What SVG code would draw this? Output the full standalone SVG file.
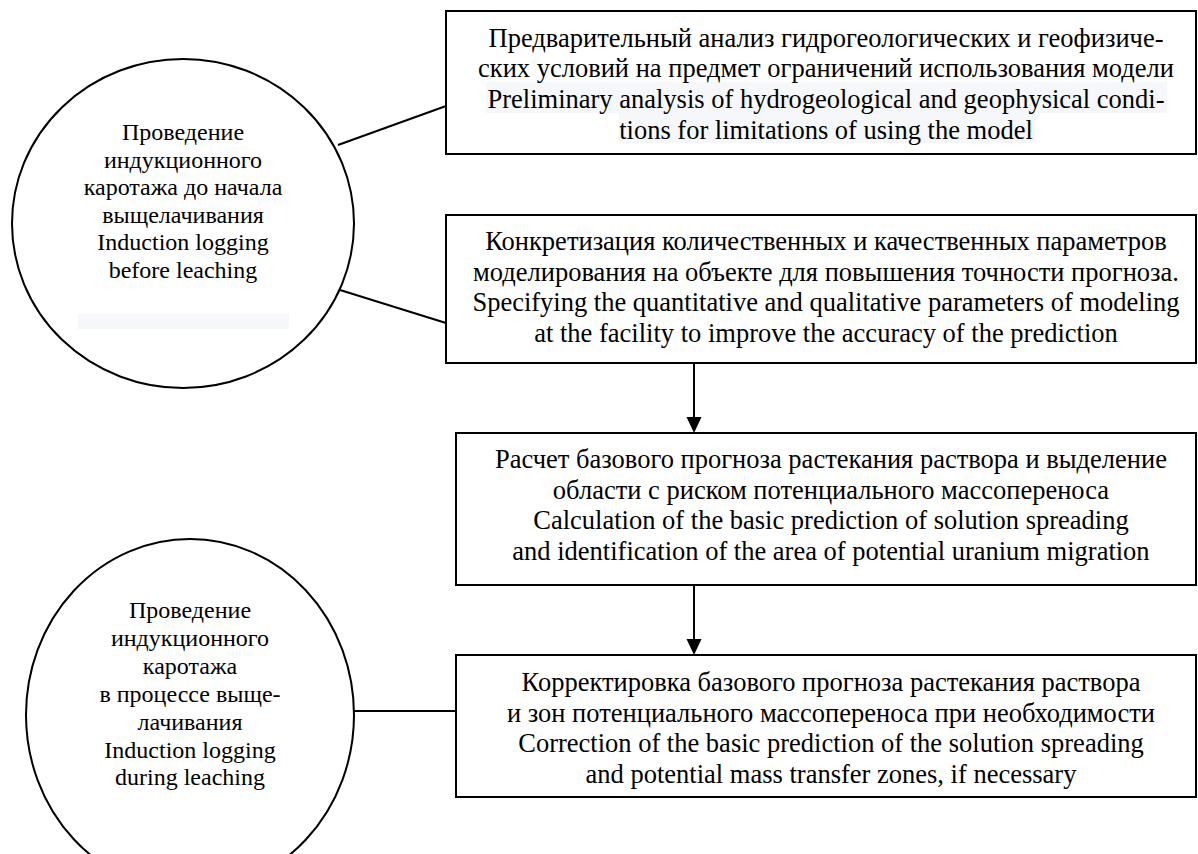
<svg xmlns="http://www.w3.org/2000/svg" width="1198" height="854" viewBox="0 0 1198 854">
  <style>
    .shape { fill: #ffffff; stroke: #000000; stroke-width: 2; }
    .conn { stroke: #000000; stroke-width: 2; fill: none; }
    .head { fill: #000000; stroke: none; }
    .bt { font-family: "Liberation Serif", "Times New Roman", serif; font-size: 26.5px; fill: #000000; text-anchor: middle; }
    .ct { font-family: "Liberation Serif", "Times New Roman", serif; font-size: 24px; fill: #000000; text-anchor: middle; }
    .hl { fill: #f5f7fa; stroke: none; }
  </style>
  <rect x="0" y="0" width="1198" height="854" fill="#ffffff"/>

  <g id="connectors">
    <line class="conn" x1="338" y1="145" x2="446" y2="106"/>
    <line class="conn" x1="340" y1="290" x2="446" y2="323"/>
    <line class="conn" x1="354" y1="711" x2="456" y2="711"/>
    <line class="conn" x1="694" y1="363" x2="694" y2="420"/>
    <polygon class="head" points="686.5,417 701.5,417 694,433"/>
    <line class="conn" x1="694" y1="585" x2="694" y2="642"/>
    <polygon class="head" points="686.5,639 701.5,639 694,655"/>
  </g>

  <g id="circle-before">
    <ellipse class="shape" cx="183" cy="223.5" rx="171" ry="164.5"/>
    <rect class="hl" x="78" y="314" width="211" height="15"/>
    <text class="ct" x="183" y="140">Проведение</text>
    <text class="ct" x="183" y="167.5">индукционного</text>
    <text class="ct" x="183" y="195">каротажа до начала</text>
    <text class="ct" x="183" y="222.5">выщелачивания</text>
    <text class="ct" x="183" y="250">Induction logging</text>
    <text class="ct" x="183" y="277.5">before leaching</text>
  </g>

  <g id="circle-during">
    <ellipse class="shape" cx="190" cy="715" rx="164" ry="176"/>
    <text class="ct" x="190" y="618">Проведение</text>
    <text class="ct" x="190" y="646">индукционного</text>
    <text class="ct" x="190" y="674">каротажа</text>
    <text class="ct" x="190" y="702">в процессе выще-</text>
    <text class="ct" x="190" y="730">лачивания</text>
    <text class="ct" x="190" y="757.5">Induction logging</text>
    <text class="ct" x="190" y="785">during leaching</text>
  </g>

  <g id="box-analysis">
    <rect class="shape" x="446" y="11" width="750" height="143"/>
    <rect class="hl" x="486" y="82" width="681" height="31"/>
    <rect class="hl" x="619" y="113" width="416" height="30"/>
    <text class="bt" x="826" y="46.7">Предварительный анализ гидрогеологических и геофизиче-</text>
    <text class="bt" x="826" y="77.4">ских условий на предмет ограничений использования модели</text>
    <text class="bt" x="826" y="108.1">Preliminary analysis of hydrogeological and geophysical condi-</text>
    <text class="bt" x="826" y="138.8">tions for limitations of using the model</text>
  </g>

  <g id="box-specifying">
    <rect class="shape" x="446" y="215" width="750" height="148"/>
    <text class="bt" x="826" y="250">Конкретизация количественных и качественных параметров</text>
    <text class="bt" x="826" y="280.5">моделирования на объекте для повышения точности прогноза.</text>
    <text class="bt" x="826" y="311">Specifying the quantitative and qualitative parameters of modeling</text>
    <text class="bt" x="826" y="341.5">at the facility to improve the accuracy of the prediction</text>
  </g>

  <g id="box-calculation">
    <rect class="shape" x="456" y="433" width="740" height="152"/>
    <text class="bt" x="831" y="468">Расчет базового прогноза растекания раствора и выделение</text>
    <text class="bt" x="831" y="498.5">области с риском потенциального массопереноса</text>
    <text class="bt" x="831" y="529">Calculation of the basic prediction of solution spreading</text>
    <text class="bt" x="831" y="559.5">and identification of the area of potential uranium migration</text>
  </g>

  <g id="box-correction">
    <rect class="shape" x="456" y="655" width="740" height="142"/>
    <text class="bt" x="831" y="691">Корректировка базового прогноза растекания раствора</text>
    <text class="bt" x="831" y="721.5">и зон потенциального массопереноса при необходимости</text>
    <text class="bt" x="831" y="752">Correction of the basic prediction of the solution spreading</text>
    <text class="bt" x="831" y="782.5">and potential mass transfer zones, if necessary</text>
  </g>
</svg>
